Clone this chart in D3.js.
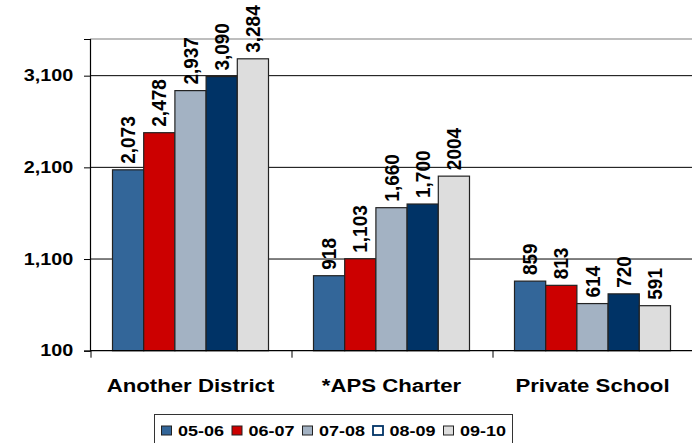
<!DOCTYPE html>
<html>
<head>
<meta charset="utf-8">
<script src="https://cdn.jsdelivr.net/npm/d3@7"></script>
<style>
  body { margin: 0; background: #fff; }
  svg { display: block; font-family: Arial, "Liberation Sans", sans-serif; }
</style>
</head>
<body>
<svg id="chart"></svg>
<script>
const categories = ['Another District', '*APS Charter', 'Private School'];
const series = ['05-06', '06-07', '07-08', '08-09', '09-10'];
const values = [
  [2073, 2478, 2937, 3090, 3284],
  [918, 1103, 1660, 1700, 2004],
  [859, 813, 614, 720, 591]
];
const valueLabels = [
  ['2,073', '2,478', '2,937', '3,090', '3,284'],
  ['918', '1,103', '1,660', '1,700', '2004'],
  ['859', '813', '614', '720', '591']
];
const yTicks = [100, 1100, 2100, 3100];
const yTickLabels = ['100', '1,100', '2,100', '3,100'];

const colors = ['#336699', '#cc0000', '#a3b2c3', '#003366', '#dddddd'];
// image looks stretched sideways, so text gets a bit wider too
const sx = 1.2;

const W = 692, H = 443;
const m = {left: 90, right: 693, top: 39, bottom: 350.7};

const svg = d3.select('#chart')
.attr('width', W)
.attr('height', H);

const y = d3.scaleLinear()
.domain([100, 3500])
.range([m.bottom, m.top]);

const x0 = d3.scaleBand()
.domain(categories)
.range([m.left, m.right]);

const x1 = d3.scaleBand()
.domain(series)
.range([22.5, x0.bandwidth() - 22.5]);

// top frame
svg.append('line')
.attr('x1', m.left).attr('x2', m.right)
.attr('y1', y(3500)).attr('y2', y(3500))
.attr('stroke', '#7f7f7f').attr('stroke-width', 1.2);

// gridlines
svg.selectAll('.grid')
.data(yTicks.slice(1))
.enter()
.append('line')
.attr('class', 'grid')
.attr('x1', m.left).attr('x2', m.right)
.attr('y1', d => y(d)).attr('y2', d => y(d))
.attr('stroke', '#000').attr('stroke-width', 1);

// bars
const groups = svg.selectAll('.grp')
.data(categories)
.enter()
.append('g')
.attr('class', 'grp')
.attr('transform', d => `translate(${x0(d)},0)`);

const cells = (c, ci) => series.map((s, si) => ({s, si, v: values[ci][si], label: valueLabels[ci][si]}));

groups.selectAll('rect')
.data(cells)
.enter()
.append('rect')
.attr('x', d => x1(d.s))
.attr('y', d => y(d.v))
.attr('width', x1.bandwidth())
.attr('height', d => y(100) - y(d.v))
.attr('fill', d => colors[d.si])
.attr('stroke', '#222')
.attr('stroke-width', 1.2);

groups.selectAll('text.val')
.data(cells)
.enter()
.append('text')
.attr('class', 'val')
.attr('transform', d => `translate(${x1(d.s) + x1.bandwidth() / 2},${y(d.v) - 6}) scale(1.05,1) rotate(-90)`)
.attr('dy', '0.36em')
.attr('text-anchor', 'start')
.style('font-size', '19px')
.style('font-weight', 'bold')
.style('fill', '#000')
.text(d => d.label);

// y axis
const yAxis = svg.append('g')
.attr('transform', `translate(${m.left},0)`)
.call(d3.axisLeft(y).tickValues(yTicks).tickSize(6).tickFormat((d, i) => yTickLabels[i]));

yAxis.select('.domain').attr('stroke', '#000').attr('stroke-width', 1.2);
yAxis.selectAll('.tick line').attr('stroke', '#000');
yAxis.selectAll('.tick text')
.attr('x', -14)
.attr('transform', `scale(${sx},1)`)
.style('font-size', '16.5px')
.style('font-weight', 'bold')
.style('font-family', 'Arial, "Liberation Sans", sans-serif')
.style('fill', '#000');

// x axis
svg.append('line')
.attr('x1', m.left).attr('x2', m.right)
.attr('y1', y(100)).attr('y2', y(100))
.attr('stroke', '#000').attr('stroke-width', 1.2);

svg.selectAll('.xtick')
.data(categories)
.enter()
.append('line')
.attr('class', 'xtick')
.attr('x1', d => x0(d) + 1).attr('x2', d => x0(d) + 1)
.attr('y1', y(100)).attr('y2', y(100) + 7)
.attr('stroke', '#000');

svg.selectAll('.xlab')
.data(categories)
.enter()
.append('text')
.attr('class', 'xlab')
.attr('transform', d => `translate(${x0(d) + x0.bandwidth() / 2},392) scale(${sx},1)`)
.attr('text-anchor', 'middle')
.style('font-size', '18.5px')
.style('font-weight', 'bold')
.style('fill', '#000')
.text(d => d);

// legend
const legend = svg.append('g');

legend.append('rect')
.attr('x', 154.5).attr('y', 414.5)
.attr('width', 358).attr('height', 40)
.attr('fill', '#fff')
.attr('stroke', '#333').attr('stroke-width', 1);

const items = legend.selectAll('.item')
.data(series)
.enter()
.append('g')
.attr('class', 'item')
.attr('transform', (d, i) => `translate(${161 + i * 70.5},0)`);

// 08-09 marker is hollow in the original legend
items.append('rect')
.attr('x', 0.5).attr('y', 426)
.attr('width', 10).attr('height', 9)
.attr('fill', (d, i) => i === 3 ? '#fff' : colors[i])
.attr('stroke', (d, i) => i === 3 ? '#003366' : '#222')
.attr('stroke-width', (d, i) => i === 3 ? 1.8 : 1);

items.append('text')
.attr('transform', `translate(17,435.5) scale(${sx},1)`)
.style('font-size', '15px')
.style('font-weight', 'bold')
.style('fill', '#000')
.text(d => d);
</script>
</body>
</html>
